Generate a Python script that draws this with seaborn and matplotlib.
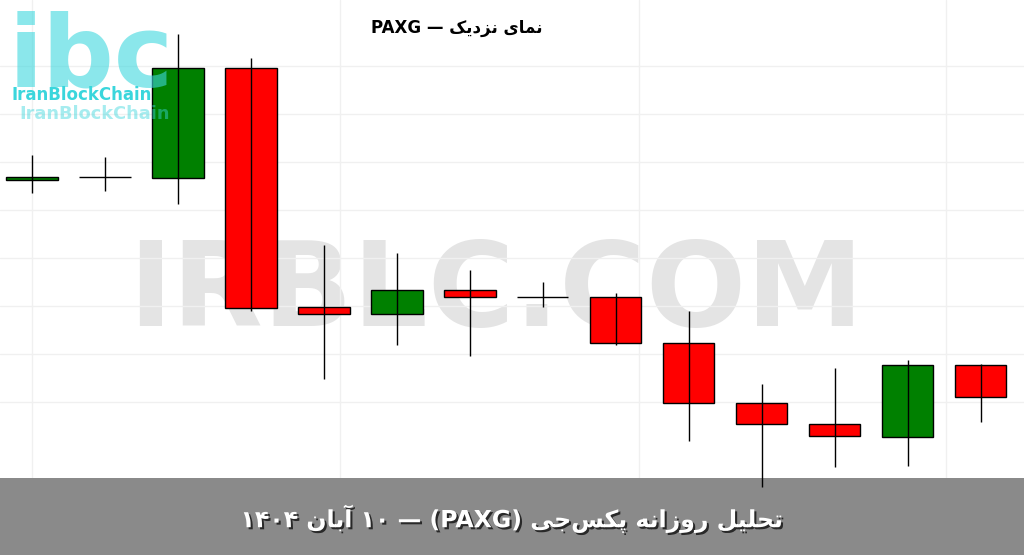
import re
import numpy as np
import matplotlib
matplotlib.use('Agg')
import matplotlib.pyplot as plt
import matplotlib.patheffects as pe
from matplotlib.patches import Rectangle
import seaborn as sns

# ---- داده‌ها (کندل‌های روزانه PAXG) ----
candle_idx = list(range(14))
opens  = [4247.5, 4250.0, 4249.5, 4355.0, 4126.0, 4119.0, 4142.0, 4135.5, 4135.5, 4091.0, 4033.0, 4013.0, 4001.0, 4070.0]
closes = [4250.5, 4250.0, 4355.0, 4125.0, 4119.0, 4142.0, 4135.5, 4135.5, 4091.0, 4033.0, 4013.0, 4002.0, 4070.0, 4039.5]
highs  = [4271.5, 4269.5, 4388.0, 4365.0, 4185.0, 4177.0, 4161.0, 4150.0, 4139.0, 4122.0, 4052.0, 4067.0, 4075.0, 4071.0]
lows   = [4235.0, 4237.0, 4224.5, 4122.0, 4056.5, 4089.0, 4079.0, 4126.0, 4089.0, 3997.0, 3953.0, 3972.0, 3973.0, 4015.0]

title_text = 'نمای نزدیک — PAXG'
banner_text = 'تحلیل روزانه پکس\u200cجی (PAXG) — ۱۰ آبان ۱۴۰۴'
watermark_text = 'IRBLC.COM'

# شکل‌دهی ساده حروف فارسی (matplotlib خودش اتصال و راست‌به‌چپ ندارد)
FORMS = {
    '\u0627': ('\uFE8D', '\uFE8E', None, None),
    '\u0622': ('\uFE81', '\uFE82', None, None),
    '\u0628': ('\uFE8F', '\uFE90', '\uFE91', '\uFE92'),
    '\u062A': ('\uFE95', '\uFE96', '\uFE97', '\uFE98'),
    '\u062C': ('\uFE9D', '\uFE9E', '\uFE9F', '\uFEA0'),
    '\u062D': ('\uFEA1', '\uFEA2', '\uFEA3', '\uFEA4'),
    '\u062F': ('\uFEA9', '\uFEAA', None, None),
    '\u0631': ('\uFEAD', '\uFEAE', None, None),
    '\u0632': ('\uFEAF', '\uFEB0', None, None),
    '\u0633': ('\uFEB1', '\uFEB2', '\uFEB3', '\uFEB4'),
    '\u0644': ('\uFEDD', '\uFEDE', '\uFEDF', '\uFEE0'),
    '\u0645': ('\uFEE1', '\uFEE2', '\uFEE3', '\uFEE4'),
    '\u0646': ('\uFEE5', '\uFEE6', '\uFEE7', '\uFEE8'),
    '\u0647': ('\uFEE9', '\uFEEA', '\uFEEB', '\uFEEC'),
    '\u0648': ('\uFEED', '\uFEEE', None, None),
    '\u067E': ('\uFB56', '\uFB57', '\uFB58', '\uFB59'),
    '\u06A9': ('\uFB8E', '\uFB8F', '\uFB90', '\uFB91'),
    '\u06CC': ('\uFBFC', '\uFBFD', '\uFBFE', '\uFBFF'),
}


def fa(text):
    out = []
    for i, ch in enumerate(text):
        if ch not in FORMS:
            if ch != '\u200c':
                out.append(ch)
            continue
        f = FORMS[ch]
        prev = text[i - 1] if i > 0 else ''
        nxt = text[i + 1] if i + 1 < len(text) else ''
        jp = prev in FORMS and FORMS[prev][2] is not None
        jn = f[2] is not None and nxt in FORMS
        if jp and jn:
            out.append(f[3])
        elif jp:
            out.append(f[1])
        elif jn:
            out.append(f[2])
        else:
            out.append(f[0])
    parts = re.findall(r'[A-Za-z0-9\u06F0-\u06F9]+|.', ''.join(out))
    mirror = {'(': ')', ')': '('}
    return ''.join(mirror.get(p, p) for p in reversed(parts))


sns.set_theme(style='whitegrid', rc={'grid.color': '#f0f0f0', 'grid.linewidth': 1.0})
plt.rcParams['font.family'] = ['DejaVu Sans']

fig = plt.figure(figsize=(10.24, 5.55), dpi=100)
ax = fig.add_axes([0, 0, 1, 1])
ax.set_facecolor('white')

# واترمارک
ax.text(0.484, 0.4126, watermark_text, transform=ax.transAxes, ha='center', va='baseline',
        fontsize=85, fontweight='bold', color='#e4e4e4', zorder=0.5)

# لوگو
ax.text(0.008, 0.845, 'ibc', transform=ax.transAxes, ha='left', va='baseline',
        fontsize=72, fontweight='bold', color='#3ed8de', alpha=0.6, zorder=5)
ax.text(0.011, 0.829, 'IranBlockChain', transform=ax.transAxes, ha='left', va='center',
        fontsize=12, fontweight='bold', color='#3ad6dc', zorder=5)
ax.text(0.019, 0.794, 'IranBlockChain', transform=ax.transAxes, ha='left', va='center',
        fontsize=12.8, fontweight='bold', color='#3ad6dc', alpha=0.45, zorder=5)

# کندل‌ها
colors = ['green' if c > o else ('red' if c < o else 'black') for o, c in zip(opens, closes)]
bottoms = np.minimum(opens, closes)
heights = np.abs(np.array(closes) - np.array(opens))
ax.bar(candle_idx, heights, bottom=bottoms, width=0.7, color=colors,
       edgecolor='black', linewidth=1.0, zorder=2)
ax.vlines(candle_idx, lows, highs, color='black', linewidth=1.0, zorder=3)

ax.set_xlim(-0.438, 13.59)
ax.set_ylim(3887.5, 4420.3)
ax.set_xticks([0, 4.22, 8.32, 12.52])
ax.set_yticks(np.arange(4034.4, 4400, 46.1))
ax.tick_params(labelleft=False, labelbottom=False, length=0)
for s in ax.spines.values():
    s.set_visible(False)

# عنوان
ax.text(0.446, 0.95, fa(title_text), transform=ax.transAxes, ha='center', va='center',
        fontsize=12, fontweight='bold', color='black', zorder=6)

# نوار پایین
ax.add_patch(Rectangle((0, 0), 1, 77 / 555, transform=ax.transAxes, facecolor='#8a8a8a',
                       edgecolor='none', zorder=2.5, clip_on=False))
ax.text(0.5, 0.065, fa(banner_text), transform=ax.transAxes, ha='center', va='center',
        fontsize=17, fontweight='bold', color='white', zorder=6,
        path_effects=[pe.withSimplePatchShadow(offset=(1.5, -1.5), shadow_rgbFace='black', alpha=0.7)])

fig.savefig('out.png', dpi=100)
